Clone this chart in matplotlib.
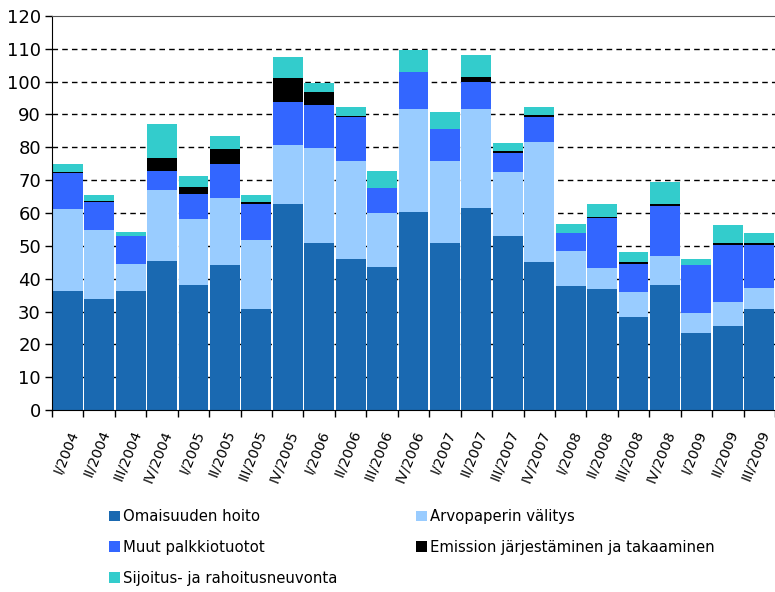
import numpy as np
import matplotlib.pyplot as plt
from matplotlib.ticker import FixedLocator

plt.rcParams['font.family'] = ['DejaVu Sans']

quarters = ["I/2004", "II/2004", "III/2004", "IV/2004",
            "I/2005", "II/2005", "III/2005", "IV/2005",
            "I/2006", "II/2006", "III/2006", "IV/2006",
            "I/2007", "II/2007", "III/2007", "IV/2007",
            "I/2008", "II/2008", "III/2008", "IV/2008",
            "I/2009", "II/2009", "III/2009"]

omaisuuden_hoito = [36.2, 33.8, 36.2, 45.5, 38.2, 44.1, 30.9, 62.7, 50.9, 46.1, 43.7, 60.3,
                    50.9, 61.6, 52.9, 45.1, 37.8, 36.8, 28.4, 38.2, 23.6, 25.5, 30.9]
arvopaperin_valitys = [25.0, 21.0, 8.3, 21.5, 20.0, 20.5, 21.0, 18.0, 28.8, 29.7, 16.4, 31.3,
                       24.9, 30.0, 19.5, 36.6, 10.6, 6.3, 7.4, 8.8, 5.9, 7.3, 6.4]
muut_palkkiotuotot = [10.9, 8.4, 8.4, 5.9, 7.7, 10.3, 10.8, 13.2, 13.3, 13.3, 7.6, 11.4,
                      9.9, 8.2, 5.9, 7.5, 5.4, 15.3, 8.8, 15.1, 14.6, 17.6, 13.1]
emissio = [0.3, 0.6, 0.2, 4.0, 2.1, 4.7, 0.5, 7.3, 3.8, 0.5, 0.0, 0.0,
           0.0, 1.7, 0.5, 0.5, 0.0, 0.5, 0.5, 0.6, 0.0, 0.5, 0.5]
sijoitusneuvonta = [2.4, 1.7, 1.1, 10.1, 3.4, 4.0, 2.3, 6.3, 2.9, 2.8, 5.2, 6.5,
                    5.2, 6.5, 2.4, 2.7, 2.9, 3.7, 2.9, 6.7, 1.9, 5.3, 2.9]

series = [
    ("Omaisuuden hoito", omaisuuden_hoito, "#1A69B1"),
    ("Arvopaperin välitys", arvopaperin_valitys, "#99CCFF"),
    ("Muut palkkiotuotot", muut_palkkiotuotot, "#3366FF"),
    ("Emission järjestäminen ja takaaminen", emissio, "#000000"),
    ("Sijoitus- ja rahoitusneuvonta", sijoitusneuvonta, "#33CCCC"),
]

fig = plt.figure(figsize=(7.75, 5.92), dpi=100)
ax = fig.add_axes([0.0671, 0.3074, 0.9329, 0.6656])

x = np.arange(len(quarters))
bottom = np.zeros(len(quarters))
handles = {}
for name, vals, col in series:
    vals = np.array(vals)
    b = ax.bar(x, vals, bottom=bottom, width=0.95, color=col, label=name, zorder=2)
    handles[name] = b
    bottom += vals

ax.set_xlim(-0.5, len(quarters) - 0.5)
ax.set_ylim(0, 120)
ax.set_yticks(np.arange(0, 121, 10))
ax.tick_params(axis='y', direction='out', length=5, width=1, labelsize=13, pad=3)

# labels at bar centres, tick marks at category boundaries
ax.set_xticks(x)
ax.set_xticklabels(quarters, rotation=68, ha='right', va='top', rotation_mode='anchor', fontsize=10.3)
ax.tick_params(axis='x', which='major', length=0, pad=13)
ax.xaxis.set_minor_locator(FixedLocator(np.arange(-0.5, len(quarters), 1.0)))
ax.tick_params(axis='x', which='minor', direction='out', length=5, width=1)

for yv in range(10, 120, 10):
    ax.axhline(yv, color='black', linestyle=(0, (4, 3)), linewidth=1, zorder=1)

ax.spines['right'].set_visible(False)
ax.spines['top'].set_color('#555555')

order = ["Omaisuuden hoito", "Muut palkkiotuotot", "Sijoitus- ja rahoitusneuvonta",
         "Arvopaperin välitys", "Emission järjestäminen ja takaaminen"]
fig.legend([handles[n] for n in order], order, ncol=2, frameon=False,
           loc='upper left', bbox_to_anchor=(0.141, 0.140), bbox_transform=fig.transFigure,
           fontsize=10.7, handlelength=0.72, handleheight=0.72, handletextpad=0.2,
           columnspacing=5.3, labelspacing=1.06, borderaxespad=0, borderpad=0)

fig.savefig("out.png", dpi=100)
